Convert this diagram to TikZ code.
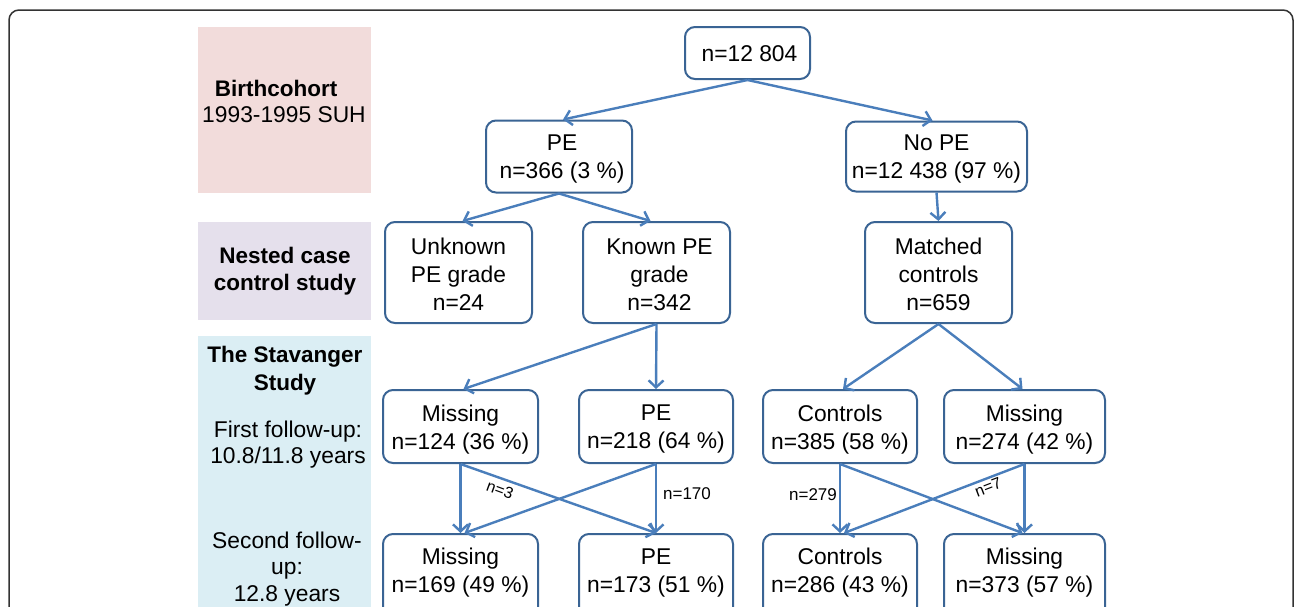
\documentclass[tikz,border=0pt]{standalone}
\usepackage{fontspec}
\setmainfont{Liberation Sans}
\usetikzlibrary{arrows.meta,positioning,calc}
\definecolor{arrowblue}{HTML}{4A7EBB}
\definecolor{boxblue}{HTML}{3A6494}
\definecolor{pinkband}{HTML}{F2DCDB}
\definecolor{lavband}{HTML}{E5E0EC}
\definecolor{blueband}{HTML}{DBEEF4}
\begin{document}
\begin{tikzpicture}[x=1pt,y=-1pt,
 stage/.style={draw=boxblue, line width=2pt, rounded corners=10pt, fill=white, inner sep=0pt},
 txt/.style={align=center, inner sep=0pt, font=\fontsize{22.8}{28}\selectfont},
 boldtxt/.style={align=center, inner sep=0pt, font=\fontsize{22.5}{27}\selectfont\bfseries},
 band/.style={draw=none, inner sep=0pt, anchor=north west, minimum width=173pt},
 flow/.style={draw=arrowblue, line width=2.4pt, -{Straight Barb[length=7pt,width=15pt]}},
 count/.style={inner sep=0pt, font=\fontsize{17}{20}\selectfont}
]
\useasboundingbox (0,0) rectangle (1296,606);
\draw[line width=1.5pt, black!80, rounded corners=10pt] (9,10) rectangle (1293,660);

% left bands
\node[band, fill=pinkband, minimum height=166pt] (b1) at (198,27) {};
\node[band, fill=lavband, minimum height=98pt] (b2) at (198,222) {};
\node[band, fill=blueband, minimum height=300pt] (b3) at (198,336) {};

\node[boldtxt] (bc1) at (276,88) {Birthcohort};
\node[txt] (bc2) at (284,115) {1993-1995 SUH};
\node[boldtxt] (nc) at (285,271) {Nested case\\control study};
\node[boldtxt, font=\fontsize{22.5}{28}\selectfont\bfseries] (st) at (285,371) {The Stavanger\\Study};
\node[txt, font=\fontsize{22.8}{26}\selectfont] (ff) at (288,445) {First follow-up:\\10.8/11.8 years};
\node[txt, font=\fontsize{22.8}{26.5}\selectfont] (sf) at (287,569) {Second follow-\\up:\\12.8 years};

% boxes
\node[stage, minimum width=125pt, minimum height=52pt] (top) at (747.5,53) {};
\node[stage, minimum width=146pt, minimum height=72pt] (pe) at (559,156.5) {};
\node[stage, minimum width=181pt, minimum height=70pt] (nope) at (936.5,156.5) {};
\node[stage, minimum width=147pt, minimum height=101pt] (unk) at (458.5,272.5) {};
\node[stage, minimum width=147pt, minimum height=101pt] (known) at (656.5,272.5) {};
\node[stage, minimum width=147pt, minimum height=101pt] (matched) at (938.5,272.5) {};
\node[stage, minimum width=155pt, minimum height=73pt] (miss1) at (460.5,426.5) {};
\node[stage, minimum width=154pt, minimum height=73pt] (pe1) at (656,426.5) {};
\node[stage, minimum width=154pt, minimum height=73pt] (ctl1) at (840,426.5) {};
\node[stage, minimum width=161pt, minimum height=73pt] (mis1r) at (1024.5,426.5) {};
\node[stage, anchor=north, minimum width=155pt, minimum height=90pt] (miss2) at (460.5,533) {};
\node[stage, anchor=north, minimum width=154pt, minimum height=90pt] (pe2) at (656,533) {};
\node[stage, anchor=north, minimum width=154pt, minimum height=90pt] (ctl2) at (840,533) {};
\node[stage, anchor=north, minimum width=161pt, minimum height=90pt] (mis2r) at (1024.5,533) {};

% box texts
\node[txt] (topt) at ([xshift=2pt,yshift=-1pt]top.center) {n=12 804};
\node[txt] (pet) at ([xshift=3pt,yshift=-3pt]pe.center) {PE\\n=366 (3 \%)};
\node[txt] (nopet) at ([yshift=-3pt]nope.center) {No PE\\n=12 438 (97 \%)};
\node[txt] (unkt) at ([yshift=-2pt]unk.center) {Unknown\\PE grade\\n=24};
\node[txt] (knownt) at ([xshift=3pt,yshift=-2pt]known.center) {Known PE\\grade\\n=342};
\node[txt] (matchedt) at ([yshift=-2pt]matched.center) {Matched\\controls\\n=659};
\node[txt] (miss1t) at ([yshift=-3pt]miss1.center) {Missing\\n=124 (36 \%)};
\node[txt] (pe1t) at ([yshift=-3pt]pe1.center) {PE\\n=218 (64 \%)};
\node[txt] (ctl1t) at ([yshift=-3pt]ctl1.center) {Controls\\n=385 (58 \%)};
\node[txt] (mis1rt) at ([yshift=-3pt]mis1r.center) {Missing\\n=274 (42 \%)};
\node[txt] (miss2t) at (460.5,573) {Missing\\n=169 (49 \%)};
\node[txt] (pe2t) at (656,573) {PE\\n=173 (51 \%)};
\node[txt] (ctl2t) at (840,573) {Controls\\n=286 (43 \%)};
\node[txt] (mis2rt) at (1024.5,573) {Missing\\n=373 (57 \%)};

% connectors
\draw[flow] (top.south) -- ([xshift=4pt]pe.north);
\draw[flow] (top.south) -- ([xshift=-4pt]nope.north);
\draw[flow] (pe.south) -- ([xshift=4pt]unk.north);
\draw[flow] (pe.south) -- ([xshift=-6pt]known.north);
\draw[flow] (nope.south) -- (matched.north);
\draw[flow] (known.south) -- ([xshift=3pt]miss1.north);
\draw[flow] (known.south) -- (pe1.north);
\draw[flow] (matched.south) -- ([xshift=3pt]ctl1.north);
\draw[flow] (matched.south) -- ([xshift=-2pt]mis1r.north);

\draw[flow] (miss1.south) -- (miss2.north);
\draw[flow] (miss1.south) -- (pe2.north);
\draw[flow] (pe1.south) -- (pe2.north);
\draw[flow] (pe1.south) -- ([xshift=4pt]miss2.north);
\draw[flow] (ctl1.south) -- (ctl2.north);
\draw[flow] (ctl1.south) -- ([xshift=-2pt]mis2r.north);
\draw[flow] (mis1r.south) -- (mis2r.north);
\draw[flow] (mis1r.south) -- ([xshift=4pt]ctl2.north);

\node[count, font=\fontsize{16}{18}\selectfont, rotate=-20] (c3) at (500,490) {n=3};
\node[count] (c170) at (687,494) {n=170};
\node[count] (c279) at (813,495) {n=279};
\node[count, font=\fontsize{16}{18}\selectfont, rotate=21] (c7) at (988,487) {n=7};
\end{tikzpicture}
\end{document}
